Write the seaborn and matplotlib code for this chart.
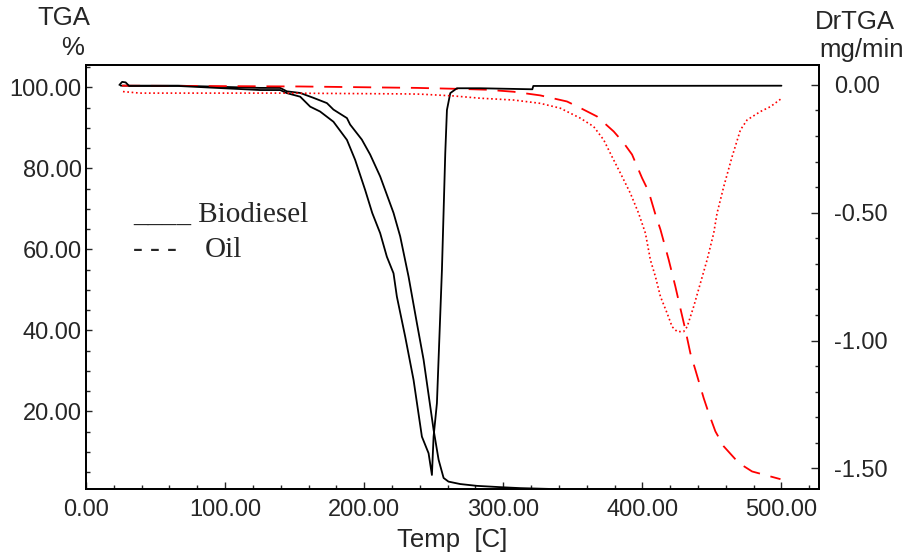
import numpy as np
import pandas as pd
import matplotlib
matplotlib.use("Agg")
import matplotlib.pyplot as plt
import seaborn as sns
from matplotlib.ticker import MultipleLocator, FormatStrFormatter

# ---------------- data ----------------
# Biodiesel TGA (%), left axis
bio_tga_T = [25, 66, 125, 139.6, 144.4, 154, 163.5, 173.2, 177.9, 187.6, 189.9, 198.3,
             204.3, 211.5, 221.1, 225.9, 231.9, 237.9, 242.7, 249.9, 253.5, 257.1,
             260.6, 269, 281, 297.8, 312.2, 332.4]
bio_tga_v = [100.4, 100.4, 99.85, 99.85, 99.0, 98.6, 97.4, 96.1, 94.5, 92.4, 90.8, 87.1,
             83.4, 78.0, 69.0, 63.2, 53.3, 41.8, 32.8, 15.5, 8.1, 3.6,
             2.7, 2.1, 1.65, 1.33, 1.09, 0.9]

# Biodiesel DrTGA (mg/min), right axis
bio_dtg_T = [24, 26, 28.5, 31, 66.2, 125.2, 139.6, 144.4, 154, 161.2, 168.3, 177.9, 187.6,
             193.5, 200.7, 205.8, 211.5, 216.3, 221.1, 223.5, 229.5, 235.5, 241.5,
             246.3, 248.7, 249.9, 252.3, 255.9, 258.3, 259.5, 261.9, 266.7, 283.5,
             320.9, 321.6, 500]
bio_dtg_v = [0.0, 0.012, 0.010, -0.004, -0.004, -0.02, -0.02, -0.032, -0.046, -0.085,
             -0.104, -0.144, -0.215, -0.293, -0.411, -0.501, -0.580, -0.672, -0.737,
             -0.828, -0.985, -1.154, -1.376, -1.441, -1.526, -1.376, -1.245, -0.724,
             -0.267, -0.098, -0.032, -0.013, -0.013, -0.017, -0.004, -0.003]

# Oil TGA (%), left axis
oil_tga_T = [25.9, 154, 237.9, 269.1, 288.3, 307.4, 326.6, 345.8, 355.4, 367.4, 379.4,
             386.5, 392.6, 399.8, 404.5, 409.4, 413, 418.9, 423.7, 427.3, 430.9, 434.5,
             438.1, 444.1, 447.7, 452.5, 458.5, 469.3, 478.9, 499.3]
oil_tga_v = [100.4, 100.2, 99.85, 99.6, 99.4, 98.9, 98.0, 96.5, 94.9, 92.8, 89.1,
             86.3, 83.4, 77.6, 74.3, 68.6, 64.9, 57.5, 50.9, 45.5, 40.2, 34.4,
             30.3, 23.3, 19.6, 15.1, 11.4, 7.3, 5.2, 3.3]

# Oil DrTGA (mg/min), right axis
oil_dtg_T = [26.6, 38.8, 139.6, 228.3, 240.3, 264.2, 283.5, 307.4, 326.6, 341, 355.4,
             365, 372.2, 378.2, 384.2, 391.4, 397.3, 402.2, 405.8, 409.4, 413, 417.8,
             421.4, 425, 429.7, 432.2, 436.9, 441.7, 446.5, 451.3, 453.7, 458.5,
             464.5, 470.5, 475.3, 484.9, 492.1, 499.3]
oil_dtg_v = [-0.026, -0.032, -0.032, -0.035, -0.036, -0.043, -0.052, -0.059, -0.072,
             -0.091, -0.130, -0.163, -0.215, -0.281, -0.345, -0.424, -0.502, -0.580,
             -0.685, -0.750, -0.828, -0.893, -0.946, -0.965, -0.965, -0.946, -0.867,
             -0.776, -0.685, -0.580, -0.502, -0.398, -0.281, -0.176, -0.137, -0.104,
             -0.085, -0.056]

x_ticks = [0, 100, 200, 300, 400, 500]
left_ticks = [20, 40, 60, 80, 100]
right_ticks = [0.0, -0.5, -1.0, -1.5]

# ---------------- figure ----------------
sns.set_style("ticks")
plt.rcParams["font.family"] = ["Liberation Sans", "DejaVu Sans"]

fig = plt.figure(figsize=(9.09, 5.58), dpi=100)
ax = fig.add_axes([86 / 909, 1 - 489.3 / 558, (819 - 86) / 909, (489.3 - 65) / 558])
ax2 = ax.twinx()

lw = 1.3
sns.lineplot(x=bio_tga_T, y=bio_tga_v, ax=ax, color="black", lw=lw,
             sort=False, estimator=None)
sns.lineplot(x=oil_tga_T, y=oil_tga_v, ax=ax, color="#ff0000", lw=lw,
             sort=False, estimator=None, linestyle=(0, (10, 6)))
sns.lineplot(x=bio_dtg_T, y=bio_dtg_v, ax=ax2, color="black", lw=lw,
             sort=False, estimator=None)
sns.lineplot(x=oil_dtg_T, y=oil_dtg_v, ax=ax2, color="#ff0000", lw=1.2,
             sort=False, estimator=None, linestyle=(0, (1, 1.6)))

ax.set_xlim(0, 527)
ax.set_ylim(0.8, 105.5)
ax2.set_ylim(-1.582, 0.078)

ax.set_xticks(x_ticks)
ax.xaxis.set_minor_locator(MultipleLocator(20))
ax.set_yticks(left_ticks)
ax.yaxis.set_minor_locator(MultipleLocator(5))
ax2.set_yticks(right_ticks)
ax2.yaxis.set_minor_locator(MultipleLocator(0.1))
ax.xaxis.set_major_formatter(FormatStrFormatter("%.2f"))
ax.yaxis.set_major_formatter(FormatStrFormatter("%.2f"))
ax2.yaxis.set_major_formatter(FormatStrFormatter("%.2f"))

ax.tick_params(axis="x", which="major", direction="in", length=5, width=1, pad=7,
               labelsize=17, top=False)
ax.tick_params(axis="x", which="minor", direction="in", length=3, width=1, top=False)
ax.tick_params(axis="y", which="major", direction="in", length=4, width=1, pad=3,
               labelsize=17)
ax.tick_params(axis="y", which="minor", direction="in", length=3, width=1)
ax2.tick_params(axis="y", which="major", direction="in", length=6, width=1, pad=11,
                labelsize=17)
ax2.tick_params(axis="y", which="minor", direction="in", length=3, width=1)

for a in (ax, ax2):
    for s in a.spines.values():
        s.set_visible(True)
        s.set_linewidth(1.3)
        s.set_color("black")

ax.set_xlabel("")
ax.set_ylabel("")
ax2.set_ylabel("")

# axis titles
fig.text(64 / 909, 1 - 18 / 558, "TGA", ha="center", va="center", fontsize=18.5)
fig.text(73 / 909, 1 - 48 / 558, "%", ha="center", va="center", fontsize=18.5)
fig.text(855 / 909, 1 - 22 / 558, "DrTGA", ha="center", va="center", fontsize=18.5)
fig.text(862 / 909, 1 - 50 / 558, "mg/min", ha="center", va="center", fontsize=18.5)
fig.text(452 / 909, 1 - 540 / 558, "Temp  [C]", ha="center", va="center", fontsize=18.5)

# legend-like text
ax.text((133 - 86) / 733, 1 - (222 - 65) / 424.3, "____ Biodiesel", transform=ax.transAxes,
        family=["Liberation Serif", "DejaVu Serif"], fontsize=21, va="baseline", ha="left")
ax.text((133 - 86) / 733, 1 - (257 - 65) / 424.3, "- - -", transform=ax.transAxes,
        family=["Liberation Serif", "DejaVu Serif"], fontsize=21, va="baseline", ha="left")
ax.text((205 - 86) / 733, 1 - (257 - 65) / 424.3, "Oil", transform=ax.transAxes,
        family=["Liberation Serif", "DejaVu Serif"], fontsize=21, va="baseline", ha="left")

fig.savefig("out.png", dpi=100)
